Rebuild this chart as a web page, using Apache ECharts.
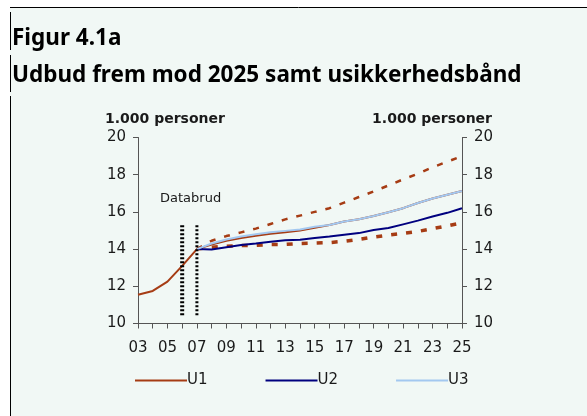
<!DOCTYPE html>
<html>
<head>
<meta charset="utf-8">
<script src="https://cdn.jsdelivr.net/npm/echarts@6/dist/echarts.min.js"></script>
<style>
  html, body { margin: 0; padding: 0; background: #fff; }
  #chart { width: 587px; height: 416px; }
</style>
</head>
<body>
<div id="chart"></div>
<script>
const years = ['03', '04', '05', '06', '07', '08', '09', '10', '11', '12', '13', '14',
  '15', '16', '17', '18', '19', '20', '21', '22', '23', '24', '25']

// hovedforløb
const u1 = [11.55, 11.75, 12.25, 13.1, 14.0, 14.25, 14.45, 14.6, 14.72, 14.82, 14.9, 15.0,
  15.15, 15.3, 15.48, 15.6, 15.78, 15.98, 16.2, 16.48, 16.72, 16.92, 17.12]
const u2 = [null, null, null, null, 14.0, 13.98, 14.1, 14.22, 14.3, 14.4, 14.47, 14.5,
  14.6, 14.68, 14.77, 14.86, 15.03, 15.13, 15.33, 15.53, 15.75, 15.95, 16.2]
const u3 = [null, null, null, null, 14.0, 14.3, 14.52, 14.68, 14.8, 14.9, 14.98, 15.05,
  15.2, 15.3, 15.48, 15.6, 15.78, 15.98, 16.2, 16.48, 16.72, 16.92, 17.12]

// usikkerhedsbånd
const bandHigh = [null, null, null, null, 14.0, 14.45, 14.7, 14.9, 15.1, 15.35, 15.6, 15.8,
  16.0, 16.2, 16.5, 16.8, 17.1, 17.42, 17.75, 18.05, 18.4, 18.7, 19.0]
const bandLow = [null, null, null, null, 14.0, 14.1, 14.15, 14.2, 14.2, 14.25, 14.25, 14.3,
  14.32, 14.35, 14.42, 14.52, 14.65, 14.75, 14.85, 14.95, 15.1, 15.25, 15.42]

// databrud
const breakLeft = [['06', 10.45], ['06', 15.3]]
const breakRight = [['07', 10.45], ['07', 15.3]]

const brown = '#a63c14'
const navy = '#00007f'
const lightBlue = '#a3c8f0'
const axisColor = '#555'
const textColor = '#1a1a1a'

const chart = echarts.init(document.getElementById('chart'))

const yAxisBase = {
  type: 'value',
  min: 10,
  max: 20,
  interval: 2,
  nameLocation: 'end',
  nameGap: 11,
  nameTextStyle: { color: textColor, fontFamily: 'DejaVu Sans', fontWeight: 'bold', fontSize: 14 },
  axisLine: { show: true, lineStyle: { color: axisColor, width: 1 } },
  axisTick: { show: true, length: 5, lineStyle: { color: axisColor } },
  axisLabel: { color: textColor, fontFamily: 'DejaVu Sans', fontSize: 15, margin: 12 },
  splitLine: { show: false }
}

chart.setOption({
  backgroundColor: '#fff',
  animation: false,
  graphic: [
    { type: 'rect', shape: { x: 10, y: 8, width: 577, height: 408 }, style: { fill: '#f1f8f5' }, z: -10 },
    { type: 'line', shape: { x1: 10, y1: 7.5, x2: 587, y2: 7.5 }, style: { stroke: '#000', lineWidth: 1 } },
    { type: 'line', shape: { x1: 10.5, y1: 12, x2: 10.5, y2: 50 }, style: { stroke: '#000', lineWidth: 1 } },
    { type: 'line', shape: { x1: 10.5, y1: 55, x2: 10.5, y2: 92 }, style: { stroke: '#000', lineWidth: 1 } },
    { type: 'line', shape: { x1: 10.5, y1: 96, x2: 10.5, y2: 416 }, style: { stroke: '#000', lineWidth: 1 } },
    {
      type: 'text', left: 12, top: 27,
      style: { text: 'Figur 4.1a', fill: '#000', font: 'bold 22.5px "Noto Sans"' }
    },
    {
      type: 'text', left: 12, top: 64,
      style: { text: 'Udbud frem mod 2025 samt usikkerhedsbånd', fill: '#000', font: 'bold 22.5px "Noto Sans"' }
    },
    {
      type: 'text', left: 160, top: 192,
      style: { text: 'Databrud', fill: textColor, font: '13px "DejaVu Sans"' }
    }
  ],
  grid: { left: 138, right: 125, top: 137.5, bottom: 92.5 },
  legend: {
    data: ['U1', 'U2', 'U3'],
    left: 130,
    top: 368,
    itemWidth: 52,
    itemHeight: 14,
    itemGap: 58,
    icon: 'path://M0,6 L52,6 L52,8 L0,8 Z',
    textStyle: { color: textColor, fontFamily: 'DejaVu Sans', fontSize: 15, padding: [0, 0, 0, -5] }
  },
  xAxis: {
    type: 'category',
    data: years,
    boundaryGap: false,
    axisLine: { lineStyle: { color: axisColor, width: 1 } },
    axisTick: { show: true, interval: 0, length: 5, lineStyle: { color: axisColor } },
    axisLabel: { interval: 1, color: textColor, fontFamily: 'DejaVu Sans', fontSize: 15, margin: 17 },
    splitLine: { show: false }
  },
  yAxis: [
    Object.assign({}, yAxisBase, {
      position: 'left',
      name: '1.000 personer',
      nameTextStyle: Object.assign({}, yAxisBase.nameTextStyle, { align: 'left', padding: [0, 0, 0, -33] })
    }),
    Object.assign({}, yAxisBase, {
      position: 'right',
      name: '1.000 personer',
      nameTextStyle: Object.assign({}, yAxisBase.nameTextStyle, { align: 'right', padding: [0, -30, 0, 0] })
    })
  ],
  series: [
    {
      name: 'Høj', type: 'line', data: bandHigh, symbol: 'none',
      lineStyle: { color: brown, width: 2.5, type: [6, 9] }
    },
    {
      name: 'Lav', type: 'line', data: bandLow, symbol: 'none',
      lineStyle: { color: brown, width: 3.5, type: [6, 9] }
    },
    {
      name: 'U1', type: 'line', data: u1, symbol: 'none',
      itemStyle: { color: brown }, lineStyle: { color: brown, width: 2 }
    },
    {
      name: 'U2', type: 'line', data: u2, symbol: 'none',
      itemStyle: { color: navy }, lineStyle: { color: navy, width: 2 }
    },
    {
      name: 'U3', type: 'line', data: u3, symbol: 'none',
      itemStyle: { color: lightBlue }, lineStyle: { color: lightBlue, width: 2 }
    },
    {
      name: 'brud1', type: 'line', data: breakLeft, symbol: 'none',
      lineStyle: { color: '#000', width: 4, type: [2, 2] }
    },
    {
      name: 'brud2', type: 'line', data: breakRight, symbol: 'none',
      lineStyle: { color: '#000', width: 3, type: [2, 2] }
    }
  ]
})
</script>
</body>
</html>
